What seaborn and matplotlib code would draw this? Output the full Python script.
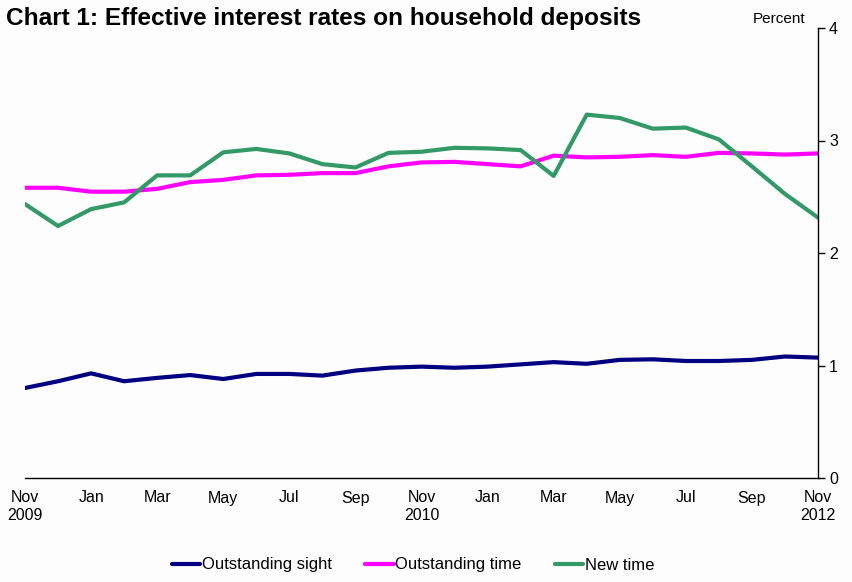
import pandas as pd
import matplotlib
matplotlib.use("Agg")
import matplotlib.pyplot as plt
import seaborn as sns

# Monthly observations, Nov 2009 onwards
months = list(range(25))
outstanding_sight = [0.80, 0.86, 0.93, 0.86, 0.89, 0.915, 0.88, 0.925, 0.925, 0.91,
                     0.955, 0.98, 0.99, 0.98, 0.99, 1.01, 1.03, 1.015, 1.05, 1.055,
                     1.04, 1.04, 1.05, 1.08, 1.07]
outstanding_time = [2.58, 2.58, 2.545, 2.545, 2.57, 2.63, 2.65, 2.69, 2.695, 2.71,
                    2.71, 2.77, 2.805, 2.81, 2.79, 2.77, 2.865, 2.85, 2.855, 2.87,
                    2.855, 2.89, 2.885, 2.875, 2.885]
new_time = [2.435, 2.24, 2.39, 2.45, 2.69, 2.69, 2.895, 2.925, 2.885, 2.79,
            2.76, 2.89, 2.90, 2.935, 2.93, 2.915, 2.685, 3.23, 3.20, 3.105,
            3.115, 3.01, 2.77, 2.525, 2.315]
series_names = ["Outstanding sight", "Outstanding time", "New time"]
tick_pos = list(range(0, 25, 2))
tick_labels = ["Nov\n2009", "Jan", "Mar", "May", "Jul", "Sep", "Nov\n2010",
               "Jan", "Mar", "May", "Jul", "Sep", "Nov\n2012"]

df = pd.DataFrame({
    "month": months * 3,
    "value": outstanding_sight + outstanding_time + new_time,
    "series": [series_names[0]] * 25 + [series_names[1]] * 25 + [series_names[2]] * 25,
})

sns.set_theme(style="white")
plt.rcParams['font.family'] = ['Liberation Sans', 'DejaVu Sans']
plt.rcParams['text.color'] = 'black'
plt.rcParams['xtick.color'] = 'black'
plt.rcParams['ytick.color'] = 'black'

palette = {"Outstanding sight": "#000080", "Outstanding time": "#FF00FF", "New time": "#339966"}

fig = plt.figure(figsize=(8.52, 5.82), dpi=100, facecolor="#FDFDFD")
ax = fig.add_axes([25 / 852, 1 - 478 / 582, (818 - 25) / 852, (478 - 28) / 582])
ax.set_facecolor("#FDFDFD")

sns.lineplot(data=df, x="month", y="value", hue="series", palette=palette,
             linewidth=3, ax=ax, legend=False)

ax.set_xlim(0, 24)
ax.set_ylim(0, 4)
ax.set_xticks(tick_pos)
ax.set_xticklabels(tick_labels, fontsize=11.5)
ax.set_yticks([0, 1, 2, 3, 4])
ax.yaxis.tick_right()
ax.tick_params(axis="y", labelsize=11.5, length=5, width=1, color="black", direction="out", pad=3)
ax.tick_params(axis="x", length=5, width=1, color="black", direction="out", pad=4)
ax.set_xlabel("")
ax.set_ylabel("")
for side in ["left", "top"]:
    ax.spines[side].set_visible(False)
for side in ["right", "bottom"]:
    ax.spines[side].set_color("black")
    ax.spines[side].set_linewidth(1)

fig.text(6 / 852, 1 - 19 / 582, "Chart 1: Effective interest rates on household deposits",
         fontsize=17.6, fontweight="bold", va="center", ha="left")
fig.text(805 / 852, 1 - 19 / 582, "Percent", fontsize=11, va="center", ha="right")

handles = [plt.Line2D([], [], color=palette[n], linewidth=3) for n in series_names]
fig.legend(handles, series_names, loc="center", bbox_to_anchor=(0.485, 1 - 565 / 582),
           ncol=3, frameon=False, fontsize=12, handlelength=1.7, handletextpad=0.1,
           columnspacing=2.0)

fig.savefig("out.png", dpi=100, facecolor=fig.get_facecolor())
